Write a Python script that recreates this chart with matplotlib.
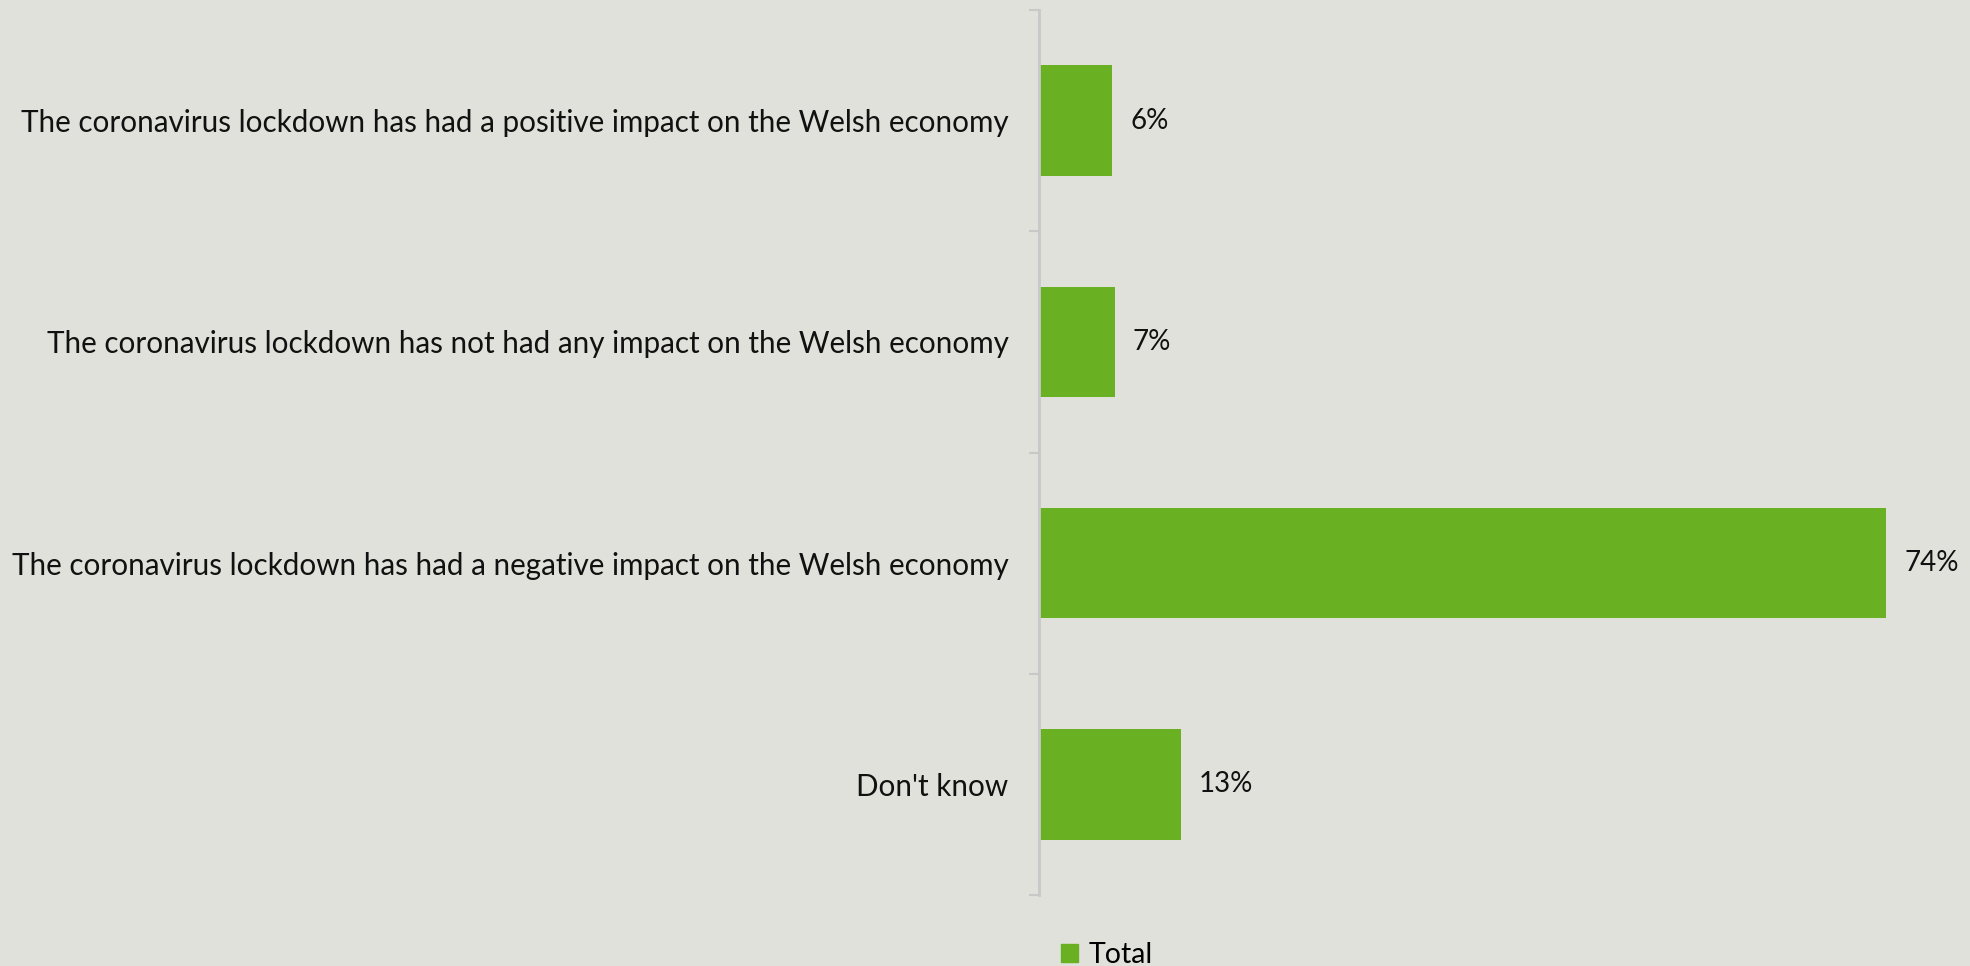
import matplotlib.pyplot as plt
from matplotlib.patches import Patch

categories = ["The coronavirus lockdown has had a positive impact on the Welsh economy",
              "The coronavirus lockdown has not had any impact on the Welsh economy",
              "The coronavirus lockdown has had a negative impact on the Welsh economy",
              "Don't know"]
values = [6.4, 6.6, 74.0, 12.4]
labels = ["6%", "7%", "74%", "13%"]

bg = '#E0E1DA'
green = '#6AB023'

plt.rcParams['font.family'] = ['Lato', 'DejaVu Sans']

fig = plt.figure(figsize=(19.7, 9.66), dpi=100, facecolor=bg)
ax = fig.add_axes([1039 / 1970, 1 - 895 / 966, 1 - 1039 / 1970, 885 / 966])
ax.set_facecolor(bg)

y = list(range(len(categories)))
ax.barh(y, values, height=0.5, color=green)
for yi, v, lab in zip(y, values, labels):
    ax.annotate(lab, (v, yi), xytext=(13, 0), textcoords='offset points',
                va='center', ha='left', fontsize=20, color='#111111')

ax.set_ylim(3.5, -0.5)
ax.set_xlim(0, 81.3)
ax.set_yticks(y)
ax.set_yticklabels(categories, fontsize=21.3, color='#111111')
ax.tick_params(axis='y', length=0, pad=22)
ax.set_yticks([-0.5, 0.5, 1.5, 2.5, 3.5], minor=True)
ax.tick_params(axis='y', which='minor', length=7, color='#C8C8C8', width=1.5)
ax.set_xticks([])
for s in ['top', 'right', 'bottom']:
    ax.spines[s].set_visible(False)
ax.spines['left'].set_color('#C8C8C8')
ax.spines['left'].set_linewidth(2)

fig.legend(handles=[Patch(color=green, label='Total')], loc='center',
           bbox_to_anchor=(1107 / 1970, 1 - 955 / 966), frameon=False,
           fontsize=20.5, handlelength=0.6, handleheight=0.6, handletextpad=0.4)

fig.savefig('out.png', dpi=100, facecolor=bg)
